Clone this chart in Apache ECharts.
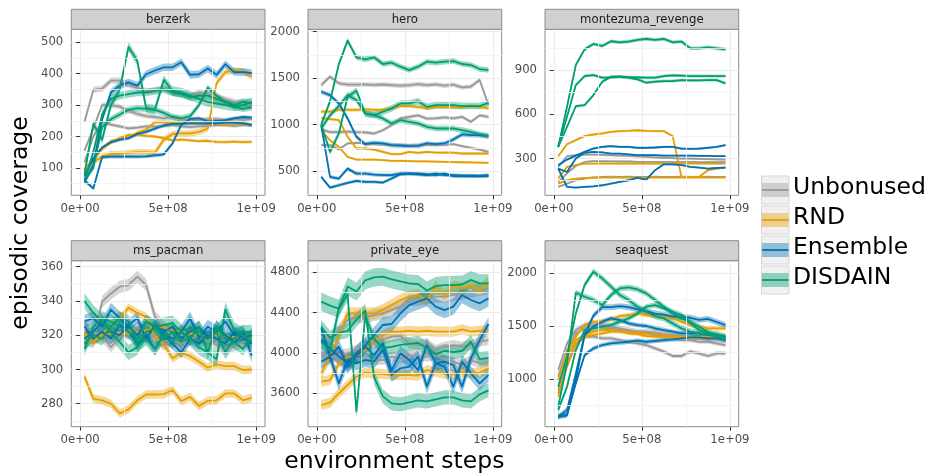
<!DOCTYPE html>
<html><head><meta charset="utf-8">
<script src="https://cdn.jsdelivr.net/npm/echarts@6/dist/echarts.min.js"></script>
<style>html,body{margin:0;padding:0;background:#fff}#c{width:929px;height:476px}</style>
</head><body><div id="c"></div>
<script>
// ---------------- DATA ----------------
const steps = [25e6, 75e6, 125e6, 175e6, 225e6, 275e6, 325e6, 375e6, 425e6, 475e6,
               525e6, 575e6, 625e6, 675e6, 725e6, 775e6, 825e6, 875e6, 925e6, 975e6];
const methods = ['Unbonused', 'RND', 'Ensemble', 'DISDAIN'];
const panelNames = ['berzerk', 'hero', 'montezuma_revenge', 'ms_pacman', 'private_eye', 'seaquest'];
const xTickValues = [0, 5e8, 1e9];
const xTickLabels = ['0e+00', '5e+08', '1e+09'];
const xMinorValues = [2.5e8, 7.5e8];

// berzerk
const berzerkUnbonused = [
  [247, 348, 352, 378, 378, 365, 355, 345, 345, 352, 340, 335, 328, 340, 335, 325, 318, 310, 305, 300],
  [155, 225, 300, 300, 295, 282, 272, 265, 262, 258, 262, 255, 252, 252, 255, 255, 250, 255, 252, 255],
  [118, 200, 245, 238, 232, 226, 228, 232, 232, 234, 236, 232, 230, 232, 234, 236, 236, 234, 236, 236]];
const berzerkRND = [
  [95, 128, 160, 185, 192, 196, 212, 222, 246, 246, 246, 246, 246, 244, 242, 240, 238, 240, 240, 236],
  [93, 120, 135, 145, 145, 148, 150, 150, 148, 190, 208, 210, 210, 215, 225, 370, 405, 410, 408, 390],
  [90, 130, 160, 180, 195, 205, 205, 202, 200, 195, 188, 190, 188, 185, 186, 183, 182, 184, 182, 183]];
const berzerkEnsemble = [
  [55, 110, 255, 340, 362, 372, 362, 398, 410, 420, 420, 436, 396, 398, 416, 396, 430, 405, 405, 402],
  [60, 35, 135, 136, 136, 136, 136, 137, 140, 143, 178, 238, 256, 258, 248, 250, 252, 258, 262, 260],
  [75, 130, 165, 182, 190, 195, 208, 215, 225, 235, 240, 240, 242, 242, 242, 242, 244, 244, 242, 236]];
const berzerkDISDAIN = [
  [80, 240, 190, 300, 350, 485, 440, 290, 285, 380, 345, 340, 330, 320, 310, 305, 300, 295, 300, 310],
  [60, 150, 270, 320, 330, 335, 340, 340, 345, 350, 340, 335, 325, 330, 330, 320, 310, 300, 310, 305],
  [65, 100, 230, 255, 270, 285, 290, 288, 285, 275, 262, 258, 265, 300, 355, 330, 310, 295, 288, 292]];
const berzerkBand = [[10, 8, 6], [6, 10, 5], [12, 6, 6], [15, 12, 10]];
const berzerkYTicks = [100, 200, 300, 400, 500];
const berzerkYMinor = [50, 150, 250, 350, 450];

// hero
const heroUnbonused = [
  [1425, 1515, 1445, 1430, 1430, 1432, 1428, 1432, 1425, 1420, 1425, 1435, 1425, 1432, 1420, 1430, 1400, 1410, 1480, 1210],
  [950, 920, 920, 925, 920, 918, 905, 940, 995, 1065, 1085, 1100, 1065, 1068, 1078, 1068, 1085, 1030, 1100, 1085],
  [780, 780, 735, 798, 805, 798, 790, 787, 780, 780, 778, 780, 780, 782, 780, 790, 770, 750, 733, 708]];
const heroRND = [
  [1140, 1140, 1160, 1158, 1160, 1165, 1160, 1160, 1175, 1203, 1200, 1192, 1175, 1190, 1192, 1185, 1185, 1200, 1192, 1175],
  [1070, 1060, 1050, 870, 744, 744, 733, 708, 683, 683, 708, 697, 708, 700, 700, 700, 690, 690, 690, 690],
  [940, 833, 762, 654, 625, 625, 625, 618, 611, 610, 608, 606, 605, 603, 600, 598, 596, 594, 592, 590]];
const heroEnsemble = [
  [1354, 1318, 1228, 1067, 870, 790, 805, 798, 780, 776, 769, 772, 798, 790, 798, 841, 895, 888, 888, 877],
  [995, 439, 421, 528, 474, 474, 464, 457, 457, 474, 474, 467, 457, 474, 457, 457, 452, 452, 449, 457],
  [439, 324, 349, 374, 395, 385, 385, 378, 421, 467, 474, 474, 467, 457, 474, 446, 446, 446, 446, 446]];
const heroDISDAIN = [
  [1000, 1250, 1650, 1903, 1724, 1702, 1724, 1652, 1666, 1623, 1587, 1623, 1677, 1666, 1677, 1684, 1652, 1641, 1598, 1587],
  [1000, 708, 905, 1300, 1365, 1121, 1103, 1139, 1175, 1228, 1228, 1253, 1192, 1210, 1210, 1210, 1200, 1200, 1200, 1235],
  [960, 1100, 1200, 1318, 1264, 1121, 1103, 1067, 1013, 1049, 1031, 1013, 977, 959, 959, 959, 941, 923, 898, 877]];
const heroBand = [[25, 20, 15], [20, 15, 12], [25, 20, 18], [30, 35, 30]];
const heroYTicks = [500, 1000, 1500, 2000];
const heroYMinor = [250, 750, 1250, 1750];

// montezuma_revenge
const montezumaUnbonused = [
  [243, 316, 323, 327, 327, 325, 322, 320, 318, 315, 312, 308, 305, 303, 300, 300, 298, 296, 294, 293],
  [142, 200, 250, 277, 282, 282, 281, 280, 280, 278, 278, 277, 277, 276, 277, 277, 275, 275, 275, 277],
  [108, 130, 153, 164, 172, 176, 177, 176, 177, 176, 176, 177, 176, 176, 177, 176, 176, 177, 176, 176]];
const montezumaRND = [
  [316, 397, 425, 452, 463, 470, 481, 486, 488, 492, 488, 486, 486, 452, 176, 176, 176, 221, 232, 239],
  [166, 243, 255, 266, 266, 268, 266, 266, 265, 266, 267, 266, 265, 266, 266, 268, 266, 265, 266, 266],
  [130, 153, 164, 169, 170, 171, 171, 172, 171, 171, 171, 172, 171, 171, 171, 172, 171, 171, 171, 171]];
const montezumaEnsemble = [
  [255, 293, 320, 345, 368, 379, 384, 379, 379, 373, 373, 375, 379, 379, 368, 366, 368, 373, 379, 391],
  [232, 209, 300, 339, 345, 342, 334, 334, 329, 323, 323, 323, 320, 320, 320, 320, 318, 318, 316, 316],
  [232, 108, 103, 108, 112, 119, 130, 142, 153, 169, 157, 221, 261, 261, 255, 243, 239, 232, 236, 239]];
const montezumaDISDAIN = [
  [379, 651, 934, 1040, 1077, 1063, 1095, 1088, 1093, 1104, 1111, 1104, 1111, 1088, 1093, 1047, 1047, 1054, 1047, 1040],
  [379, 583, 798, 859, 866, 848, 850, 855, 852, 850, 848, 848, 859, 864, 862, 859, 859, 859, 859, 859],
  [379, 515, 655, 662, 730, 821, 855, 855, 848, 837, 814, 821, 825, 825, 832, 830, 830, 832, 832, 810]];
const montezumaBand = [[7, 6, 5], [8, 6, 5], [8, 6, 6], [12, 10, 10]];
const montezumaYTicks = [300, 600, 900];
const montezumaYMinor = [150, 450, 750, 1050];

// ms_pacman
const pacmanUnbonused = [
  [317, 316, 339.6, 344.4, 348.3, 349.3, 354.2, 349.3, 330.8, 325, 319, 317, 321, 319, 318, 314, 312, 314, 316, 317],
  [319, 318, 319, 313, 319, 323, 321, 322, 319, 314, 317, 315, 317, 321, 316, 319, 315, 317, 319, 318],
  [325, 322, 320, 318, 322, 320, 325, 322, 318, 316, 318, 320, 322, 318, 320, 322, 318, 316, 320, 318]];
const pacmanRND = [
  [295.8, 283, 282, 280, 274.4, 276.7, 282, 285.4, 285.4, 285.6, 288, 281.6, 284, 278.6, 281.7, 282, 286, 286, 282, 283.5],
  [320.7, 315.6, 321, 325, 329.8, 336, 333, 330.8, 319, 315, 306.5, 309.8, 307.8, 304.5, 301, 303, 302, 302, 299.7, 300],
  [321, 318, 319.5, 321, 321.5, 321, 322, 323, 324, 325, 323, 322, 321, 320, 319, 320, 319.5, 319, 318.7, 319]];
const pacmanEnsemble = [
  [328, 330, 325, 335, 330, 325, 320, 328, 325, 320, 318, 322, 330, 318, 325, 322, 328, 320, 322, 308],
  [325, 318, 322, 318, 326, 322, 315, 320, 312, 320, 315, 310, 318, 315, 320, 318, 315, 322, 318, 320],
  [318, 322, 328, 322, 320, 326, 330, 318, 326, 322, 325, 318, 322, 325, 318, 325, 320, 316, 320, 315]];
const pacmanDISDAIN = [
  [340, 333, 328, 322, 316, 310, 313, 322, 324, 326, 327, 322, 318, 313, 310, 306, 335, 323, 320, 316],
  [312, 325, 330, 328, 325, 322, 318, 328, 325, 318, 322, 316, 325, 320, 318, 322, 310, 318, 322, 322],
  [315, 320, 318, 325, 330, 328, 314, 318, 312, 320, 316, 322, 318, 325, 310, 325, 318, 316, 312, 320]];
const pacmanBand = [[3.5, 3, 3], [2.5, 2.5, 2], [4, 3.5, 3.5], [4.5, 4, 4]];
const pacmanYTicks = [280, 300, 320, 340, 360];
const pacmanYMinor = [270, 290, 310, 330, 350];

// private_eye
const privateUnbonused = [
  [4162, 4129, 4228, 4327, 4360, 4355, 4377, 4393, 4426, 4460, 4526, 4526, 4542, 4559, 4559, 4575, 4592, 4608, 4625, 4641],
  [4013, 3964, 3980, 3997, 4030, 4096, 4096, 4129, 4162, 4169, 4096, 4079, 4096, 4030, 4063, 4079, 4063, 4079, 4112, 4129],
  [3964, 3964, 3950, 3897, 3950, 3930, 3931, 3930, 3964, 3950, 3980, 3970, 3964, 3980, 3931, 3914, 3881, 3931, 3897, 3914]];
const privateRND = [
  [3798, 3964, 4162, 4393, 4393, 4393, 4393, 4426, 4476, 4526, 4559, 4575, 4526, 4658, 4575, 4658, 4641, 4674, 4625, 4698],
  [3716, 3732, 3897, 3964, 3964, 4030, 4129, 4178, 4212, 4212, 4221, 4212, 4221, 4212, 4212, 4212, 4235, 4212, 4221, 4228],
  [3484, 3507, 3600, 3683, 3765, 3805, 3798, 3792, 3782, 3782, 3782, 3775, 3831, 3815, 3792, 3788, 3815, 3798, 3805, 3848]];
const privateEnsemble = [
  [4129, 4046, 3964, 3897, 3997, 4079, 4178, 4278, 4288, 4393, 4476, 4509, 4542, 4460, 4426, 4460, 4575, 4526, 4493, 4542],
  [4245, 3964, 4063, 3864, 3964, 4063, 3980, 4096, 3831, 3997, 3931, 3831, 4079, 3897, 3914, 3881, 3666, 3947, 4129, 4288],
  [3914, 3964, 3699, 3931, 3897, 3931, 3914, 4030, 3782, 3848, 3865, 3964, 3666, 3897, 3865, 3666, 3914, 3798, 3699, 3782]];
const privateDISDAIN = [
  [4510, 4470, 4440, 4660, 4610, 4720, 4750, 4757, 4730, 4710, 4690, 4684, 4620, 4664, 4674, 4674, 4680, 4725, 4691, 4691],
  [4110, 4020, 4440, 4580, 3420, 4370, 4140, 4050, 4060, 4080, 4090, 4100, 4050, 3990, 4020, 4010, 4020, 4110, 3940, 3950],
  [4260, 4150, 4200, 4220, 4330, 4420, 3760, 3570, 3500, 3490, 3510, 3530, 3520, 3540, 3560, 3560, 3530, 3520, 3590, 3630]];
const privateBand = [[60, 50, 50], [60, 50, 50], [80, 70, 70], [90, 70, 70]];
const privateYTicks = [3600, 4000, 4400, 4800];
const privateYMinor = [3400, 3800, 4200, 4600];

// seaquest
const seaquestUnbonused = [
  [1085, 1337, 1464, 1511, 1517, 1511, 1495, 1479, 1464, 1448, 1448, 1438, 1426, 1416, 1407, 1401, 1395, 1385, 1375, 1363],
  [1022, 1274, 1432, 1479, 1495, 1490, 1479, 1464, 1448, 1440, 1432, 1416, 1401, 1385, 1369, 1369, 1353, 1353, 1337, 1322],
  [864, 1148, 1337, 1401, 1401, 1385, 1385, 1369, 1353, 1337, 1322, 1290, 1259, 1218, 1218, 1259, 1243, 1218, 1243, 1243]];
const seaquestRND = [
  [990, 1259, 1401, 1511, 1543, 1543, 1565, 1596, 1606, 1621, 1606, 1596, 1584, 1574, 1543, 1511, 1495, 1479, 1479, 1479],
  [896, 1211, 1369, 1416, 1448, 1464, 1464, 1454, 1448, 1438, 1432, 1432, 1416, 1407, 1401, 1394, 1394, 1385, 1385, 1385],
  [833, 1117, 1322, 1401, 1416, 1432, 1448, 1448, 1432, 1426, 1407, 1401, 1401, 1394, 1385, 1385, 1401, 1401, 1407, 1407]];
const seaquestEnsemble = [
  [643, 706, 1050, 1420, 1600, 1680, 1680, 1690, 1680, 1660, 1640, 1620, 1610, 1590, 1590, 1580, 1560, 1570, 1540, 1510],
  [643, 656, 990, 1416, 1495, 1543, 1574, 1558, 1527, 1511, 1502, 1479, 1464, 1448, 1432, 1432, 1432, 1416, 1407, 1401],
  [650, 660, 959, 1227, 1290, 1322, 1337, 1344, 1353, 1363, 1353, 1360, 1369, 1375, 1385, 1394, 1394, 1385, 1385, 1369]];
const seaquestDISDAIN = [
  [927, 1211, 1621, 1890, 2016, 1953, 1874, 1795, 1748, 1685, 1637, 1596, 1574, 1527, 1479, 1448, 1432, 1416, 1426, 1401],
  [738, 1148, 1817, 1779, 1748, 1700, 1795, 1858, 1867, 1849, 1811, 1748, 1685, 1621, 1574, 1543, 1495, 1448, 1407, 1385],
  [706, 927, 1274, 1464, 1479, 1495, 1511, 1543, 1574, 1621, 1685, 1700, 1669, 1637, 1606, 1527, 1464, 1432, 1401, 1369]];
const seaquestBand = [[25, 20, 20], [20, 18, 18], [28, 22, 22], [30, 28, 25]];
const seaquestYTicks = [1000, 1500, 2000];
const seaquestYMinor = [750, 1250, 1750];

// ---------------- LAYOUT / STYLE ----------------
const methodColors = ['#999999', '#E69F00', '#0072B2', '#009E73'];
const FONT = '"DejaVu Sans", "Noto Sans", sans-serif';
const panels = [
  {runs: [berzerkUnbonused, berzerkRND, berzerkEnsemble, berzerkDISDAIN], band: berzerkBand, ticks: berzerkYTicks, minor: berzerkYMinor, yMin: 13, yMax: 541},
  {runs: [heroUnbonused, heroRND, heroEnsemble, heroDISDAIN], band: heroBand, ticks: heroYTicks, minor: heroYMinor, yMin: 241, yMax: 2025},
  {runs: [montezumaUnbonused, montezumaRND, montezumaEnsemble, montezumaDISDAIN], band: montezumaBand, ticks: montezumaYTicks, minor: montezumaYMinor, yMin: 51, yMax: 1176},
  {runs: [pacmanUnbonused, pacmanRND, pacmanEnsemble, pacmanDISDAIN], band: pacmanBand, ticks: pacmanYTicks, minor: pacmanYMinor, yMin: 266.6, yMax: 363.5},
  {runs: [privateUnbonused, privateRND, privateEnsemble, privateDISDAIN], band: privateBand, ticks: privateYTicks, minor: privateYMinor, yMin: 3269, yMax: 4916},
  {runs: [seaquestUnbonused, seaquestRND, seaquestEnsemble, seaquestDISDAIN], band: seaquestBand, ticks: seaquestYTicks, minor: seaquestYMinor, yMin: 549, yMax: 2120}
];
const colLeft = [71.3, 308, 545];
const panelW = 193.7;
const rowTop = [29.3, 260.7];
const panelH = 166;
const stripH = 20;

const grids = [], xAxes = [], yAxes = [], series = [], graphics = [];
const tickColor = '#333333';
const labelColor = '#4d4d4d';

panels.forEach((pn, p) => {
  const left = colLeft[p % 3], top = rowTop[Math.floor(p / 3)];
  grids.push({left: left, top: top, width: panelW, height: panelH, show: true,
    backgroundColor: '#ffffff', borderColor: '#8c8c8c', borderWidth: 1,
    containLabel: false, outerBoundsMode: 'none'});
  xAxes.push({gridIndex: p, type: 'value', min: -5e7, max: 1.05e9,
    axisLine: {show: false},
    axisTick: {show: true, length: 4, customValues: xTickValues, lineStyle: {color: tickColor, width: 1}},
    axisLabel: {show: true, customValues: xTickValues, margin: 7.5, fontSize: 11.7, fontFamily: FONT, color: labelColor,
      formatter: v => xTickLabels[xTickValues.indexOf(v)] || ''},
    splitLine: {show: true, lineStyle: {color: '#ebebeb', width: 1}}});
  yAxes.push({gridIndex: p, type: 'value', min: pn.yMin, max: pn.yMax,
    axisLine: {show: false},
    axisTick: {show: true, length: 4, customValues: pn.ticks, lineStyle: {color: tickColor, width: 1}},
    axisLabel: {show: true, customValues: pn.ticks, margin: 8, fontSize: 11.7, fontFamily: FONT, color: labelColor,
      formatter: v => String(v)},
    splitLine: {show: true, lineStyle: {color: '#ebebeb', width: 1}}});
  // minor grid lines
  const ml = [];
  xMinorValues.forEach(v => ml.push({xAxis: v}));
  pn.minor.forEach(v => { if (v > pn.yMin && v < pn.yMax) ml.push({yAxis: v}); });
  series.push({type: 'line', xAxisIndex: p, yAxisIndex: p, data: [], silent: true, z: 0, animation: false,
    markLine: {silent: true, symbol: ['none', 'none'], animation: false, label: {show: false},
      lineStyle: {color: '#f3f3f3', width: 0.8, type: 'solid'}, emphasis: {disabled: true}, data: ml}});
  // bands
  pn.runs.forEach((runs, m) => {
    runs.forEach((vals, r) => {
      const w = pn.band[m][r];
      series.push({type: 'custom', xAxisIndex: p, yAxisIndex: p, silent: true, animation: false, z: 1, clip: true,
        data: [[steps[0], vals[0]]],
        renderItem: function (params, api) {
          const pts = [];
          for (let i = 0; i < steps.length; i++) pts.push(api.coord([steps[i], vals[i] + w]));
          for (let i = steps.length - 1; i >= 0; i--) pts.push(api.coord([steps[i], vals[i] - w]));
          return {type: 'polygon', shape: {points: pts}, style: {fill: methodColors[m], opacity: 0.4}};
        }});
    });
  });
  // lines
  pn.runs.forEach((runs, m) => {
    runs.forEach(vals => {
      series.push({type: 'line', name: methods[m], xAxisIndex: p, yAxisIndex: p, silent: true, animation: false, z: 2,
        symbol: 'none', showSymbol: false,
        lineStyle: {color: methodColors[m], width: 1.8, join: 'round'},
        data: steps.map((x, i) => [x, vals[i]])});
    });
  });
  // strip
  graphics.push({type: 'rect', shape: {x: left, y: top - stripH, width: panelW, height: stripH},
    style: {fill: '#d0d0d0', stroke: '#8c8c8c', lineWidth: 1}, z: 10});
  graphics.push({type: 'text', x: left + panelW / 2, y: top - stripH / 2 + 0.5, z: 11,
    style: {text: panelNames[p], align: 'center', verticalAlign: 'middle', fontSize: 11.7, fontFamily: FONT, fill: '#1a1a1a'}});
});

// axis titles
graphics.push({type: 'text', x: 394.3, y: 462, z: 11,
  style: {text: 'environment steps', align: 'center', verticalAlign: 'middle', fontSize: 23.5, fontFamily: FONT, fill: '#000'}});
graphics.push({type: 'text', x: 21, y: 223, rotation: Math.PI / 2, z: 11,
  style: {text: 'episodic coverage', align: 'center', verticalAlign: 'middle', fontSize: 23.5, fontFamily: FONT, fill: '#000'}});

// legend
methods.forEach((name, k) => {
  const y0 = 176 + 30 * k;
  graphics.push({type: 'rect', shape: {x: 761.5, y: y0, width: 27.5, height: 28},
    style: {fill: '#f0f0f0', stroke: '#d6d6d6', lineWidth: 1}, z: 10});
  graphics.push({type: 'rect', shape: {x: 762, y: y0 + 7, width: 26.5, height: 14},
    style: {fill: methodColors[k], opacity: 0.4}, z: 11});
  graphics.push({type: 'line', shape: {x1: 762, y1: y0 + 14, x2: 788.5, y2: y0 + 14},
    style: {stroke: methodColors[k], lineWidth: 1.8}, z: 12});
  graphics.push({type: 'text', x: 793, y: y0 + 12, z: 12,
    style: {text: name, align: 'left', verticalAlign: 'middle', fontSize: 23.5, fontFamily: FONT, fill: '#000'}});
});

const chart = echarts.init(document.getElementById('c'), null, {renderer: 'canvas', width: 929, height: 476});
chart.setOption({
  animation: false,
  backgroundColor: '#ffffff',
  grid: grids, xAxis: xAxes, yAxis: yAxes, series: series,
  graphic: {elements: graphics}
});
</script>
</body></html>
